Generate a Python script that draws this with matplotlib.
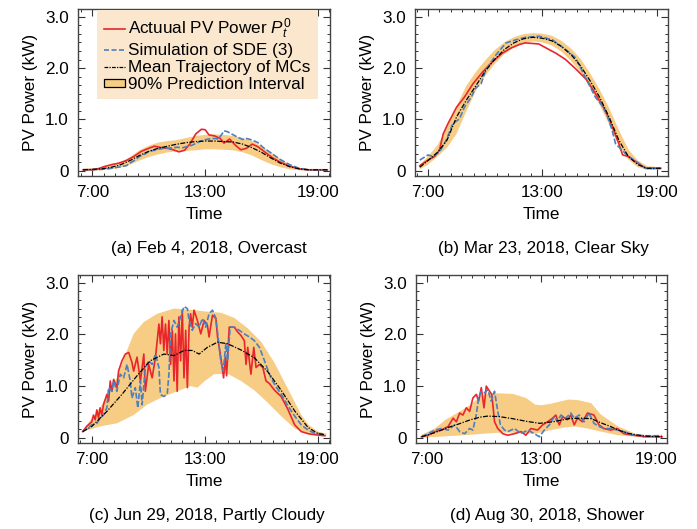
import matplotlib
matplotlib.use("Agg")
import matplotlib.pyplot as plt
from matplotlib.lines import Line2D
from matplotlib.patches import Patch
from matplotlib.ticker import MultipleLocator

plt.rcParams['font.family'] = ['Liberation Sans', 'DejaVu Sans']
plt.rcParams['mathtext.fontset'] = 'custom'
plt.rcParams['mathtext.rm'] = 'Liberation Sans'
plt.rcParams['mathtext.it'] = 'Liberation Sans:italic'
plt.rcParams['font.size'] = 12.3

# === data (hour of day, kW) ===
# (a) Feb 4, overcast
a_t_red = [6.5, 7.0, 7.3, 7.6, 8.0, 8.4, 8.8, 9.2, 9.6, 10.0, 10.3, 10.7, 11.0, 11.3, 11.6, 11.9, 12.2, 12.5, 12.8,
           13.0, 13.2, 13.5, 13.8, 14.0, 14.3, 14.6, 14.9, 15.2, 15.5, 15.8, 16.2, 16.6, 17.0, 17.5, 18.0, 18.5, 19.0, 19.5]
a_red = [0.02, 0.02, 0.04, 0.08, 0.12, 0.15, 0.20, 0.28, 0.38, 0.44, 0.48, 0.45, 0.44, 0.41, 0.37, 0.40, 0.53, 0.72, 0.81,
         0.80, 0.70, 0.68, 0.63, 0.54, 0.62, 0.50, 0.41, 0.44, 0.52, 0.47, 0.36, 0.25, 0.17, 0.09, 0.04, 0.02, 0.02, 0.02]
a_t_blue = [6.5, 7.5, 8.0, 8.5, 8.8, 9.0, 9.3, 9.5, 9.8, 10.0, 10.3, 10.5, 10.8, 11.0, 11.3, 11.5, 11.8, 12.0, 12.3, 12.6,
            12.9, 13.2, 13.5, 13.7, 13.9, 14.0, 14.2, 14.3, 14.5, 14.7, 15.0, 15.2, 15.5, 15.8, 16.1, 16.5, 17.0, 17.5,
            18.0, 18.5, 19.5]
a_blue = [0.02, 0.03, 0.05, 0.08, 0.10, 0.15, 0.22, 0.28, 0.33, 0.38, 0.40, 0.42, 0.44, 0.44, 0.45, 0.46, 0.45, 0.47, 0.50,
          0.55, 0.60, 0.62, 0.63, 0.62, 0.72, 0.78, 0.76, 0.74, 0.70, 0.66, 0.61, 0.63, 0.60, 0.55, 0.45, 0.35, 0.22, 0.12,
          0.05, 0.02, 0.02]
a_t_mean = [6.5, 7.5, 8.0, 8.5, 9.0, 9.5, 10.0, 10.5, 11.0, 11.5, 12.0, 12.5, 13.0, 13.5, 14.0, 14.5, 15.0, 15.5, 16.0,
            16.5, 17.0, 17.5, 18.0, 18.5, 19.5]
a_mean = [0.02, 0.04, 0.07, 0.12, 0.20, 0.30, 0.38, 0.44, 0.48, 0.52, 0.55, 0.57, 0.58, 0.58, 0.57, 0.56, 0.52, 0.45, 0.36,
          0.25, 0.15, 0.08, 0.04, 0.02, 0.02]
a_t_band = [6.5, 7.0, 7.5, 8.0, 8.5, 9.0, 9.5, 10.0, 10.5, 11.0, 11.5, 12.0, 12.5, 13.0, 13.5, 14.0, 14.5, 15.0, 15.5,
            16.0, 16.5, 17.0, 17.5, 18.0, 18.5, 19.5]
a_lo = [0.00, 0.00, 0.01, 0.03, 0.06, 0.12, 0.20, 0.27, 0.32, 0.36, 0.38, 0.39, 0.40, 0.42, 0.42, 0.41, 0.40, 0.36, 0.30,
        0.21, 0.13, 0.07, 0.03, 0.01, 0.00, 0.00]
a_hi = [0.05, 0.05, 0.07, 0.11, 0.17, 0.27, 0.40, 0.49, 0.55, 0.58, 0.60, 0.64, 0.68, 0.70, 0.71, 0.70, 0.68, 0.64, 0.58,
        0.48, 0.36, 0.23, 0.12, 0.06, 0.04, 0.04]

# (b) Mar 23, clear sky
b_t_red = [6.57, 7.0, 7.35, 7.6, 7.8, 8.05, 8.5, 8.9, 9.35, 9.9, 10.4, 10.9, 11.35, 11.8, 12.1, 12.8, 13.2, 13.7, 14.2,
           14.7, 15.3, 15.8, 16.3, 16.7, 17.0, 17.2, 17.5, 18.0, 18.4, 18.75, 19.2]
b_red = [0.10, 0.21, 0.28, 0.40, 0.72, 0.92, 1.24, 1.43, 1.69, 1.94, 2.13, 2.29, 2.39, 2.46, 2.49, 2.47, 2.39, 2.29, 2.17,
         2.00, 1.78, 1.49, 1.17, 0.82, 0.53, 0.31, 0.28, 0.15, 0.05, 0.05, 0.05]
b_t_blue = [6.57, 7.0, 7.26, 7.61, 7.96, 8.3, 8.65, 8.91, 9.26, 9.52, 9.78, 10.04, 10.57, 11.09, 11.61, 12.13, 12.83,
            13.52, 14.22, 14.74, 15.26, 15.78, 16.13, 16.39, 16.65, 16.83, 17.17, 17.52, 18.04, 18.39, 19.17]
b_blue = [0.21, 0.31, 0.28, 0.37, 0.60, 0.92, 1.01, 1.24, 1.43, 1.62, 1.69, 1.97, 2.26, 2.49, 2.55, 2.60, 2.62, 2.55, 2.36,
          2.20, 1.81, 1.43, 1.27, 1.08, 0.79, 0.53, 0.40, 0.28, 0.15, 0.05, 0.05]
b_t_mean = [6.57, 7.0, 7.5, 8.0, 8.5, 9.0, 9.5, 10.0, 10.5, 11.0, 11.5, 12.0, 12.5, 13.0, 13.5, 14.0, 14.5, 15.0, 15.5,
            16.0, 16.5, 17.0, 17.5, 18.0, 18.5, 19.2]
b_mean = [0.07, 0.20, 0.36, 0.60, 1.05, 1.37, 1.65, 1.94, 2.17, 2.36, 2.49, 2.57, 2.60, 2.58, 2.53, 2.42, 2.26, 2.04, 1.75,
          1.43, 1.04, 0.60, 0.28, 0.12, 0.05, 0.05]
b_lo = [0.03, 0.12, 0.28, 0.45, 0.72, 1.15, 1.55, 1.85, 2.08, 2.27, 2.40, 2.48, 2.52, 2.50, 2.44, 2.32, 2.14, 1.92, 1.62,
        1.28, 0.90, 0.50, 0.22, 0.07, 0.02, 0.02]
b_hi = [0.12, 0.28, 0.50, 0.85, 1.25, 1.65, 1.92, 2.15, 2.35, 2.50, 2.60, 2.66, 2.68, 2.67, 2.63, 2.53, 2.38, 2.18, 1.90,
        1.58, 1.22, 0.80, 0.42, 0.20, 0.09, 0.07]

# (c) Jun 29, partly cloudy
c_t_red = [6.52, 6.73, 7.0, 7.09, 7.18, 7.27, 7.36, 7.44, 7.53, 7.62, 7.8, 7.89, 7.98, 8.07, 8.16, 8.33, 8.42, 8.6, 8.78,
           8.96, 9.13, 9.22, 9.4, 9.58, 9.76, 9.84, 10.02, 10.2, 10.38, 10.56, 10.64, 10.73, 10.82, 10.91, 11.0, 11.09,
           11.18, 11.27, 11.36, 11.44, 11.53, 11.62, 11.71, 11.8, 11.89, 11.98, 12.07, 12.16, 12.24, 12.33, 12.42, 12.6,
           12.78, 12.87, 12.96, 13.13, 13.22, 13.4, 13.58, 13.67, 13.84, 13.99, 14.08, 14.15, 14.29, 14.56, 14.73, 14.91,
           15.09, 15.18, 15.27, 15.44, 15.59, 15.71, 15.89, 16.07, 16.24, 16.42, 16.69, 17.04, 17.4, 17.76, 18.11, 18.47,
           18.82, 19.36]
c_red = [0.12, 0.22, 0.31, 0.44, 0.35, 0.54, 0.38, 0.58, 0.44, 0.64, 0.84, 0.71, 1.10, 0.90, 1.13, 0.97, 1.29, 1.49, 1.62,
         1.65, 1.46, 1.29, 1.56, 1.10, 1.62, 0.90, 1.42, 1.16, 1.56, 2.20, 1.82, 2.34, 1.69, 2.20, 1.62, 2.27, 1.42, 2.08,
         1.10, 2.01, 0.90, 2.34, 1.49, 2.47, 1.16, 2.08, 0.97, 2.14, 2.40, 2.14, 2.47, 2.27, 2.01, 2.14, 2.27, 2.18, 1.95,
         2.37, 2.31, 1.95, 1.56, 1.16, 1.56, 1.20, 2.14, 2.14, 2.05, 1.98, 1.88, 1.42, 1.75, 1.23, 1.75, 1.36, 1.42, 1.36,
         1.10, 1.05, 0.92, 0.80, 0.55, 0.25, 0.12, 0.08, 0.06, 0.04]
c_t_blue = [6.52, 6.73, 7.0, 7.27, 7.44, 7.62, 7.8, 7.89, 8.07, 8.16, 8.33, 8.51, 8.69, 8.87, 9.04, 9.13, 9.31, 9.44, 9.58,
            9.67, 9.84, 10.02, 10.2, 10.38, 10.56, 10.64, 10.82, 11.0, 11.09, 11.18, 11.36, 11.53, 11.71, 11.89, 12.07,
            12.16, 12.33, 12.51, 12.69, 12.87, 13.04, 13.22, 13.4, 13.58, 13.7, 13.84, 13.97, 14.11, 14.2, 14.34, 14.56,
            14.82, 15.09, 15.36, 15.62, 15.89, 16.16, 16.33, 16.51, 16.78, 17.04, 17.4, 17.76, 18.11, 18.47, 18.8, 19.36]
c_blue = [0.12, 0.18, 0.25, 0.28, 0.38, 0.44, 0.58, 0.97, 0.90, 1.10, 0.90, 1.23, 1.16, 1.42, 1.10, 0.77, 0.97, 0.58, 1.10,
          0.64, 1.36, 1.49, 1.42, 1.62, 1.36, 0.84, 0.80, 0.84, 1.23, 2.01, 2.27, 2.14, 2.34, 2.54, 2.50, 2.27, 2.08, 2.21,
          2.14, 2.31, 2.14, 2.40, 2.47, 2.31, 1.95, 1.49, 1.29, 1.82, 1.49, 2.14, 2.14, 2.08, 2.01, 1.95, 1.88, 1.75, 1.49,
          1.32, 1.15, 0.98, 0.85, 0.62, 0.42, 0.25, 0.15, 0.09, 0.07]
c_t_mean = [6.52, 7.0, 7.8, 8.6, 9.4, 10.1, 10.82, 11.36, 11.89, 12.33, 12.69, 13.13, 13.67, 14.2, 14.91, 15.62, 16.33,
            17.04, 17.76, 18.47, 19.0, 19.36]
c_mean = [0.12, 0.22, 0.51, 0.84, 1.20, 1.49, 1.62, 1.59, 1.69, 1.69, 1.62, 1.75, 1.85, 1.82, 1.70, 1.55, 1.28, 0.92, 0.52,
          0.20, 0.08, 0.06]
c_t_hi = [6.52, 7.44, 8.33, 8.87, 9.22, 9.76, 10.47, 11.36, 12.42, 13.13, 13.84, 14.56, 15.27, 16.0, 16.69, 17.4, 18.1,
          18.5, 19.0, 19.44]
c_hi = [0.15, 0.58, 1.16, 1.69, 2.01, 2.24, 2.40, 2.50, 2.47, 2.44, 2.42, 2.32, 2.12, 1.85, 1.45, 0.95, 0.45, 0.25, 0.12,
        0.08]
c_t_lo = [6.52, 7.44, 8.33, 9.22, 9.93, 10.64, 11.53, 12.24, 12.6, 13.0, 13.49, 14.2, 14.91, 15.62, 16.33, 17.04, 17.76,
          18.47, 19.44]
c_lo = [0.12, 0.22, 0.28, 0.44, 0.64, 0.77, 0.90, 1.00, 0.97, 1.10, 1.23, 1.24, 1.10, 0.92, 0.68, 0.42, 0.18, 0.07, 0.04]

# (d) Aug 30, shower
d_t_red = [6.74, 7.09, 7.43, 7.78, 8.13, 8.39, 8.56, 8.73, 8.9, 9.08, 9.25, 9.42, 9.6, 9.72, 9.86, 10.0, 10.12, 10.29,
           10.41, 10.55, 10.72, 10.98, 11.24, 11.59, 11.94, 12.19, 12.45, 12.8, 13.06, 13.32, 13.58, 13.75, 13.93, 14.1,
           14.36, 14.53, 14.71, 14.88, 15.14, 15.4, 15.74, 16.0, 16.26, 16.61, 16.96, 17.3, 17.82, 18.34, 19.29]
d_red = [0.02, 0.05, 0.12, 0.15, 0.22, 0.38, 0.31, 0.48, 0.44, 0.58, 0.51, 0.77, 0.84, 0.71, 0.97, 0.58, 1.00, 0.90, 0.84,
         0.31, 0.18, 0.08, 0.05, 0.08, 0.12, 0.05, 0.18, 0.15, 0.25, 0.31, 0.38, 0.44, 0.25, 0.41, 0.35, 0.44, 0.25, 0.38,
         0.31, 0.48, 0.44, 0.25, 0.18, 0.15, 0.18, 0.08, 0.05, 0.02, 0.02]
d_t_blue = [6.74, 7.09, 7.43, 7.78, 8.13, 8.47, 8.73, 8.99, 9.25, 9.42, 9.6, 9.72, 9.86, 10.03, 10.2, 10.38, 10.55, 10.72,
            10.86, 11.07, 11.24, 11.59, 11.94, 12.28, 12.63, 12.89, 13.15, 13.41, 13.67, 13.84, 14.01, 14.27, 14.53,
            14.71, 14.97, 15.23, 15.48, 15.74, 16.0, 16.26, 16.61, 16.96, 17.3, 17.82, 18.34, 19.29]
d_blue = [0.02, 0.08, 0.15, 0.18, 0.15, 0.25, 0.12, 0.08, 0.18, 0.15, 0.45, 0.77, 0.90, 0.87, 0.93, 0.71, 0.90, 0.51, 0.25,
          0.15, 0.12, 0.18, 0.08, 0.15, 0.08, 0.02, 0.15, 0.25, 0.41, 0.31, 0.44, 0.38, 0.48, 0.38, 0.44, 0.31, 0.48, 0.28,
          0.22, 0.18, 0.18, 0.15, 0.12, 0.05, 0.04, 0.04]
d_t_mean = [6.74, 7.43, 8.13, 8.7, 9.3, 9.8, 10.2, 10.8, 11.5, 12.2, 12.9, 13.6, 14.4, 15.0, 15.6, 16.1, 16.6, 17.0, 17.5,
            17.9, 18.5, 19.29]
d_mean = [0.02, 0.10, 0.20, 0.27, 0.35, 0.40, 0.42, 0.41, 0.37, 0.32, 0.28, 0.31, 0.37, 0.38, 0.37, 0.29, 0.22, 0.15, 0.09,
          0.06, 0.03, 0.02]
d_t_hi = [6.74, 7.43, 8.0, 8.6, 9.3, 9.8, 10.2, 10.8, 11.5, 12.2, 12.68, 13.0, 13.5, 14.4, 14.9, 15.6, 16.1, 17.0, 17.9,
          18.5, 19.29]
d_hi = [0.06, 0.18, 0.35, 0.48, 0.64, 0.80, 0.86, 0.86, 0.85, 0.77, 0.64, 0.63, 0.66, 0.74, 0.73, 0.67, 0.45, 0.22, 0.08,
        0.05, 0.05]
d_t_lo = [6.74, 8.0, 9.0, 10.0, 10.8, 11.5, 12.0, 12.7, 13.5, 14.2, 14.75, 15.4, 16.1, 17.0, 17.9, 19.29]
d_lo = [0.00, 0.03, 0.05, 0.08, 0.10, 0.10, 0.08, 0.08, 0.15, 0.20, 0.22, 0.18, 0.12, 0.05, 0.02, 0.02]

captions = ["(a) Feb 4, 2018, Overcast", "(b) Mar 23, 2018, Clear Sky",
            "(c) Jun 29, 2018, Partly Cloudy", "(d) Aug 30, 2018, Shower"]
x_ticks = [7, 13, 19]
x_ticklabels = ["7:00", "13:00", "19:00"]
y_ticks = [0, 1, 2, 3]
y_ticklabels = ["0", "1.0", "2.0", "3.0"]

RED = '#e8262b'
BLUE = '#4d7fc0'
BAND = '#f7cd85'


def merge_band(t_lo, lo, t_hi, hi):
    # polygon: upper edge left->right, lower edge back
    xs = list(t_hi) + list(t_lo)[::-1]
    ys = list(hi) + list(lo)[::-1]
    return xs, ys


def draw_panel(ax, band, t_red, red, t_blue, blue, t_mean, mean, xlim):
    bx, by = band
    ax.fill(bx, by, color=BAND, lw=0, zorder=1)
    ax.plot(t_red, red, color=RED, lw=1.2, zorder=3)
    ax.plot(t_blue, blue, color=BLUE, lw=1.2, dashes=(3.5, 1.3), zorder=4)
    ax.plot(t_mean, mean, color='black', lw=0.9, linestyle=(0, (4, 1.2, 1, 1.2)), zorder=5)

    ax.set_xlim(*xlim)
    ax.set_ylim(-0.1, 3.15)
    ax.set_xticks(x_ticks)
    ax.set_xticklabels(x_ticklabels)
    ax.set_yticks(y_ticks)
    ax.set_yticklabels(y_ticklabels)
    ax.xaxis.set_minor_locator(MultipleLocator(0.6, offset=0.4))
    ax.yaxis.set_minor_locator(MultipleLocator(1 / 6))
    ax.tick_params(which='both', direction='in', top=True, right=True, colors='#333333', labelcolor='black',
                   labelsize=12.3)
    ax.tick_params(which='major', length=5, width=0.8, pad=6.5)
    ax.tick_params(which='minor', length=2.5, width=0.7)
    for s in ax.spines.values():
        s.set_color('#444444')
        s.set_linewidth(1.0)
    ax.set_xlabel("Time", fontsize=12.3, labelpad=5)
    ax.set_ylabel("PV Power (kW)", fontsize=12.3, labelpad=5)


fig = plt.figure(figsize=(6.97, 5.29), dpi=100)
ax_a = fig.add_axes([0.1119, 0.6673, 0.3615, 0.3157])
ax_b = fig.add_axes([0.5954, 0.6673, 0.3630, 0.3157])
ax_c = fig.add_axes([0.1119, 0.1626, 0.3615, 0.3176])
ax_d = fig.add_axes([0.5968, 0.1626, 0.3601, 0.3176])

draw_panel(ax_a, merge_band(a_t_band, a_lo, a_t_band, a_hi), a_t_red, a_red, a_t_blue, a_blue,
           a_t_mean, a_mean, (6.23, 19.64))
draw_panel(ax_b, merge_band(b_t_mean, b_lo, b_t_mean, b_hi), b_t_red, b_red, b_t_blue, b_blue,
           b_t_mean, b_mean, (6.32, 19.58))
draw_panel(ax_c, merge_band(c_t_lo, c_lo, c_t_hi, c_hi), c_t_red, c_red, c_t_blue, c_blue,
           c_t_mean, c_mean, (6.27, 19.63))
draw_panel(ax_d, merge_band(d_t_lo, d_lo, d_t_hi, d_hi), d_t_red, d_red, d_t_blue, d_blue,
           d_t_mean, d_mean, (6.45, 19.55))

# === legend in panel (a) ===
handles = [Line2D([], [], color=RED, lw=1.2),
           Line2D([], [], color=BLUE, lw=1.2, dashes=(3, 1.5)),
           Line2D([], [], color='black', lw=0.9, linestyle=(0, (3, 1, 1, 1))),
           Patch(facecolor=BAND, edgecolor='black', linewidth=0.9)]
labels = ["Actuual PV Power $P_t^0$", "Simulation of SDE (3)", "Mean Trajectory of MCs", "90% Prediction Interval"]
leg = ax_a.legend(handles, labels, loc='upper left', bbox_to_anchor=(0.075, 0.995), borderaxespad=0,
                  fontsize=12.3, frameon=True, fancybox=False, framealpha=1, facecolor='#fbe7ce', edgecolor='none',
                  handlelength=1.25, handleheight=0.4, handletextpad=0.2, labelspacing=0.12, borderpad=0.4)
leg.set_zorder(10)

# === captions ===
cap_pos = [(0.300, 0.531), (0.780, 0.531), (0.297, 0.025), (0.785, 0.025)]
for (x, y), txt in zip(cap_pos, captions):
    fig.text(x, y, txt, ha='center', va='center', fontsize=12.3)

fig.savefig("out.png", dpi=100)
